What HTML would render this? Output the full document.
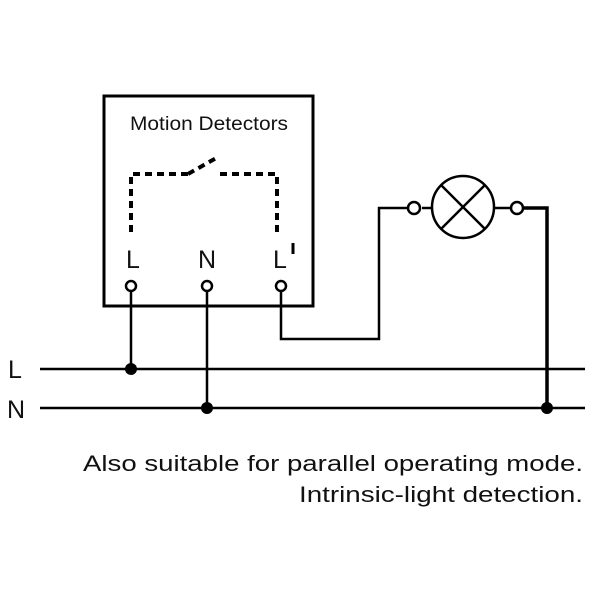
<!DOCTYPE html>
<html><head><style>html,body{margin:0;padding:0;background:#fff}</style></head>
<body>
<svg width="600" height="600" viewBox="0 0 600 600" xmlns="http://www.w3.org/2000/svg" font-family="Liberation Sans, sans-serif">
<rect width="600" height="600" fill="#fff"/>
<rect x="104" y="96" width="209" height="210" fill="none" stroke="#000" stroke-width="3"/>
<text x="130" y="130" font-size="19" fill="#111" textLength="158" lengthAdjust="spacingAndGlyphs">Motion Detectors</text>
<g stroke="#000" stroke-width="4" fill="none" stroke-dasharray="7,5">
<polyline points="131,232 131,174 188,174"/>
<line x1="188" y1="174" x2="218" y2="157"/>
<polyline points="220,174 277,174 277,237"/>
</g>
<line x1="293" y1="243" x2="293" y2="254" stroke="#000" stroke-width="3"/>
<g font-size="25" fill="#111" text-anchor="middle">
<text x="133" y="268">L</text><text x="207" y="268">N</text><text x="280" y="268">L</text>
</g>
<g stroke="#000" stroke-width="2.5" fill="none">
<line x1="131" y1="291" x2="131" y2="369"/>
<line x1="207" y1="291" x2="207" y2="408"/>
<polyline points="281,291 281,339 379,339 379,208 408,208"/>
<line x1="40" y1="369" x2="585" y2="369"/>
<line x1="40" y1="408" x2="585" y2="408"/>
<line x1="422" y1="208" x2="432" y2="208"/>
<line x1="494" y1="208" x2="512" y2="208"/>
<circle cx="463" cy="207" r="31"/>
<line x1="441" y1="185" x2="485" y2="229"/>
<line x1="485" y1="185" x2="441" y2="229"/>
<circle cx="131" cy="286" r="5"/><circle cx="207" cy="286" r="5"/><circle cx="281" cy="286" r="5"/>
<circle cx="414" cy="208" r="6"/><circle cx="517" cy="208" r="6"/>
</g>
<polyline points="523,208 547,208 547,408" stroke="#000" stroke-width="3.5" fill="none"/>
<g fill="#000"><circle cx="131" cy="369" r="6"/><circle cx="207" cy="408" r="6"/><circle cx="547" cy="408" r="6"/></g>
<g font-size="25" fill="#111">
<text x="8" y="378">L</text><text x="7" y="418">N</text>
</g>
<g font-size="22" fill="#111" text-anchor="end">
<text x="583" y="471" textLength="500" lengthAdjust="spacingAndGlyphs">Also suitable for parallel operating mode.</text>
<text x="583" y="502" textLength="284" lengthAdjust="spacingAndGlyphs">Intrinsic-light detection.</text>
</g>
</svg>
</body></html>
